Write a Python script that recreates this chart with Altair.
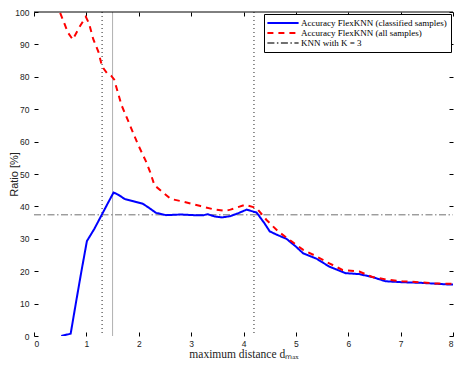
import altair as alt
import pandas as pd

# ---- data ----
S1 = "Accuracy FlexKNN (classified samples)"
S2 = "Accuracy FlexKNN (all samples)"
S3 = "KNN with K = 3"

x_classified = [0.52, 0.70, 0.80, 0.90, 1.01, 1.15, 1.29, 1.42, 1.52, 1.62, 1.73, 1.90,
                2.08, 2.20, 2.33, 2.52, 2.80, 3.05, 3.24, 3.31, 3.45, 3.59, 3.75, 3.90,
                4.06, 4.25, 4.40, 4.50, 4.63, 4.82, 5.00, 5.14, 5.39, 5.64, 5.95, 6.21,
                6.46, 6.71, 7.03, 7.40, 7.91, 8.00]
y_classified = [0.0, 0.7, 10.2, 19.5, 29.3, 33.0, 37.3, 41.3, 44.3, 43.5, 42.3, 41.6,
                40.8, 39.5, 38.0, 37.3, 37.5, 37.3, 37.3, 37.6, 36.9, 36.6, 37.0, 37.9,
                39.0, 38.1, 34.8, 32.3, 31.3, 30.0, 27.6, 25.5, 23.9, 21.4, 19.4, 19.1,
                18.2, 16.9, 16.6, 16.4, 15.9, 15.9]

x_all = [0.50, 0.65, 0.74, 0.88, 0.99, 1.05, 1.13, 1.23, 1.30, 1.40, 1.48, 1.53, 1.67,
         1.80, 1.98, 2.14, 2.22, 2.30, 2.45, 2.61, 2.84, 3.18, 3.43, 3.65, 3.75, 4.03,
         4.25, 4.44, 4.66, 4.91, 5.14, 5.39, 5.64, 5.89, 6.21, 6.46, 6.74, 7.03, 7.34,
         7.66, 8.00]
y_all = [99.7, 93.6, 91.5, 95.7, 98.5, 96.5, 91.7, 87.7, 83.2, 81.0, 80.2, 79.2, 71.3,
         66.3, 59.3, 53.8, 50.5, 46.5, 44.5, 42.3, 41.5, 40.1, 39.1, 38.6, 39.0, 40.5,
         39.5, 35.8, 32.3, 29.3, 26.6, 24.6, 22.4, 20.4, 19.9, 18.2, 17.4, 16.9, 16.6,
         16.2, 16.1]

knn_x = [0.0, 8.0]
knn_y = [37.4, 37.4]

dotted_x = [1.3, 4.2]
solid_x = [1.5]

x_ticks = [0, 1, 2, 3, 4, 5, 6, 7, 8]
y_ticks = [0, 10, 20, 30, 40, 50, 60, 70, 80, 90, 100]

# ---- tables ----
rows = []
for s, xs_, ys_ in [(S3, knn_x, knn_y), (S1, x_classified, y_classified), (S2, x_all, y_all)]:
    for i, (a, b) in enumerate(zip(xs_, ys_)):
        rows.append({"x": a, "y": b, "s": s, "o": i})
df = pd.DataFrame(rows)

xsc = alt.Scale(domain=[0, 8], nice=False, zero=False)
ysc = alt.Scale(domain=[0, 100], nice=False, zero=False)

SANS = "Liberation Sans"
SERIF = "Liberation Serif"

common_axis = dict(domain=False, grid=False, tickSize=4, offset=-4, tickColor="black",
                   tickWidth=1, labelFont=SANS, labelFontSize=8.5, labelColor="#222222")

legend = alt.Legend(title=None, orient="top-right", offset=2, fillColor="white",
                    strokeColor="black", padding=4, labelFont=SERIF, labelFontSize=9,
                    labelColor="black", symbolType="M-3.9,0H3.9", symbolSize=64,
                    symbolStrokeWidth=2, symbolOffset=10, labelOffset=13, rowPadding=0,
                    cornerRadius=0, labelLimit=400)

lines = alt.Chart(df).mark_line(clip=True).encode(
    x=alt.X("x:Q", scale=xsc,
            axis=alt.Axis(orient="bottom", values=x_ticks, format="d", labelFlush=True,
                          title="maximum distance dₘₐₓ", titleFont=SERIF,
                          titleFontSize=11.5, titleFontWeight="normal", titleColor="#222222",
                          labelPadding=3, titlePadding=1, **common_axis)),
    y=alt.Y("y:Q", scale=ysc,
            axis=alt.Axis(orient="left", values=y_ticks, format="d",
                          title="Ratio [%]", titleFont=SANS, titleFontSize=11,
                          titleFontWeight="normal", titleColor="#222222",
                          labelPadding=5, titlePadding=-5, **common_axis)),
    color=alt.Color("s:N", scale=alt.Scale(domain=[S1, S2, S3],
                                           range=["#0000ff", "#ff0000", "#707070"]),
                    legend=legend),
    strokeDash=alt.StrokeDash("s:N", scale=alt.Scale(domain=[S1, S2, S3],
                                                     range=[[1, 0], [6, 5], [7, 2.5, 1.5, 2.5]]),
                              legend=legend),
    strokeWidth=alt.condition(alt.datum.s == S3, alt.value(1), alt.value(2)),
    order="o:Q",
)

dotted = alt.Chart(pd.DataFrame({"x": dotted_x})).mark_rule(
    strokeDash=[1, 3], color="#222222", strokeWidth=1
).encode(x=alt.X("x:Q", scale=xsc, axis=None))

solid = alt.Chart(pd.DataFrame({"x": solid_x})).mark_rule(
    color="#b0b0b0", strokeWidth=1
).encode(x=alt.X("x:Q", scale=xsc, axis=None))

top = alt.Chart(pd.DataFrame({"x": [0.0], "x2": [8.0], "y": [100.0]})).mark_rule(
    color="black", strokeWidth=1
).encode(
    x=alt.X("x:Q", scale=xsc,
            axis=alt.Axis(orient="top", values=x_ticks, labels=False, title=None,
                          **common_axis)),
    x2="x2:Q",
    y=alt.Y("y:Q", scale=ysc,
            axis=alt.Axis(orient="right", values=y_ticks, labels=False, title=None,
                          **common_axis)),
)

chart = alt.layer(solid, dotted, lines, top).resolve_scale(
    x="independent", y="independent"
).properties(
    width=446, height=352, padding=0,
    autosize=alt.AutoSizeParams(type="fit", contains="padding"),
).configure_view(stroke=None)

chart.save("out.html", embed_options={"renderer": "svg", "actions": False})
